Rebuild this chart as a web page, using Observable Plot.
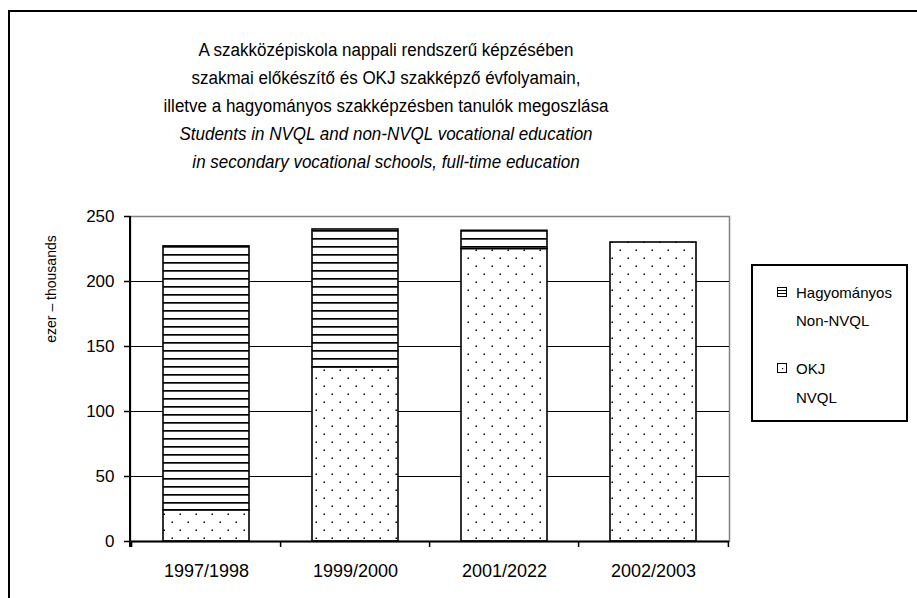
<!DOCTYPE html>
<html>
<head>
<meta charset="utf-8">
<script src="https://cdn.jsdelivr.net/npm/d3@7"></script>
<script src="https://cdn.jsdelivr.net/npm/@observablehq/plot@0.6"></script>
<style>
  body { margin: 0; background: #fff; overflow: hidden; }
  #wrap { position: relative; width: 917px; height: 598px; overflow: hidden; background: #fff;
          font-family: "Liberation Sans", Arial, sans-serif; color: #000; }
  #frame { position: absolute; left: 8px; top: 10px; width: 1000px; height: 1000px; border: 2px solid #000; }
  #title { position: absolute; left: 86px; width: 600px; top: 36px; text-align: center; font-size: 18px; line-height: 28px; white-space: nowrap; transform-origin: 300px 0; }
  #title .en { font-style: italic; }
  #chart { position: absolute; left: 0; top: 190px; }
  #ylabel { position: absolute; left: 51px; top: 289px; transform: translate(-50%, -50%) rotate(-90deg); font-size: 14px; white-space: nowrap; }
  #legend { position: absolute; left: 751px; top: 264px; width: 157px; height: 158px; border: 2px solid #000; box-sizing: border-box; font-size: 15px; }
  .lg { position: absolute; left: 43px; transform: translateY(-50%); white-space: nowrap; }
  .sw { position: absolute; left: 24px; }
</style>
</head>
<body>
<svg width="0" height="0" style="position:absolute">
  <defs>
    <pattern id="dots" patternUnits="userSpaceOnUse" width="16" height="16">
      <rect width="16" height="16" fill="#fff"/>
      <rect x="3.5" y="3.5" width="1.5" height="1.5" fill="#000"/>
      <rect x="11.5" y="11.5" width="1.5" height="1.5" fill="#000"/>
    </pattern>
    <pattern id="stripes" patternUnits="userSpaceOnUse" width="8" height="8">
      <rect width="8" height="8" fill="#fff"/>
      <rect y="0" width="8" height="1.7" fill="#000"/>
    </pattern>
    <pattern id="stripesS" patternUnits="userSpaceOnUse" width="9" height="3">
      <rect width="9" height="3" fill="#fff"/>
      <rect y="0" width="9" height="1" fill="#000"/>
    </pattern>
    <pattern id="dotsS" patternUnits="userSpaceOnUse" width="9" height="9">
      <rect width="9" height="9" fill="#fff"/>
      <rect x="5" y="5" width="1.2" height="1.2" fill="#000"/>
    </pattern>
  </defs>
</svg>
<div id="wrap">
  <div id="frame"></div>
  <div id="title"></div>
  <div id="chart"></div>
  <div id="ylabel"></div>
  <div id="legend"></div>
</div>
<script>
// ---- data ----
const years = ["1997/1998", "1999/2000", "2001/2022", "2002/2003"];
const okj = [24, 134, 225, 230];           // OKJ / NVQL
const hagyomanyos = [203, 106, 14, 0];     // Hagyományos / Non-NVQL
const yTicks = [0, 50, 100, 150, 200, 250];
const gridTicks = [50, 100, 150, 200];
const seriesNames = ["OKJ", "Hagyományos"];
const seriesLegend = [["Hagyományos", "Non-NVQL"], ["OKJ", "NVQL"]];
const titleHu = [
  "A szakközépiskola nappali rendszerű képzésében",
  "szakmai előkészítő és OKJ szakképző évfolyamain,",
  "illetve a hagyományos szakképzésben tanulók megoszlása"
];
const titleEn = [
  "Students in NVQL and non-NVQL vocational education",
  "in secondary vocational schools, full-time education"
];
const yLabel = "ezer – thousands";
const FONT = '"Liberation Sans", Arial, sans-serif';

// ---- build table ----
const data = years.flatMap((y, i) => [
  {year: y, series: "OKJ", value: okj[i]},
  {year: y, series: "Hagyományos", value: hagyomanyos[i]}
]);

// title
const t = document.getElementById("title");
const spans = [];
titleHu.forEach(s => { const d = document.createElement("div"); const sp = document.createElement("span"); sp.textContent = s; d.appendChild(sp); spans.push(sp); t.appendChild(d); });
titleEn.forEach(s => { const d = document.createElement("div"); d.className = "en"; const sp = document.createElement("span"); sp.textContent = s; d.appendChild(sp); spans.push(sp); t.appendChild(d); });
// condense the title to the narrow face of the original (line 3 is ~445px wide there)
const natural = spans[2].getBoundingClientRect().width;
if (natural > 0) t.style.transform = `scaleX(${(445 / natural).toFixed(3)})`;
document.getElementById("ylabel").textContent = yLabel;

const chart = Plot.plot({
  width: 917,
  height: 408,
  marginTop: 26,
  marginBottom: 57,
  marginLeft: 130,
  marginRight: 188,
  style: {fontFamily: FONT, fontSize: "17px", color: "#000", background: "transparent", overflow: "visible"},
  x: {domain: years, paddingInner: 0.426, paddingOuter: 0.213, label: null},
  y: {domain: [0, 250], label: null},
  color: {domain: seriesNames, range: ["url(#dots)", "url(#stripes)"]},
  marks: [
    Plot.frame({stroke: "#808080", strokeWidth: 1.5}),
    Plot.ruleY(gridTicks, {stroke: "#000", strokeWidth: 1.2}),
    Plot.barY(data, {x: "year", y: "value", fill: "series", stroke: "#000", strokeWidth: 1.6}),
    Plot.ruleY([0], {stroke: "#000", strokeWidth: 2}),
    Plot.ruleX(years, {x: d => d, dx: -74.9, y1: 0, y2: -4.6, stroke: "#000", strokeWidth: 1.5}),
    Plot.ruleX([years[years.length - 1]], {x: d => d, dx: 74.9, y1: 0, y2: -4.6, stroke: "#000", strokeWidth: 1.5}),
    Plot.axisX({tickSize: 0, tickPadding: 23, fontSize: 18, label: null}),
    Plot.axisY({ticks: yTicks, tickSize: 6, tickPadding: 10, fontSize: 17, label: null, strokeWidth: 1.5}),
    (index, scales, values, dims) => {
      const l = d3.create("svg:line")
        .attr("x1", dims.marginLeft).attr("x2", dims.marginLeft)
        .attr("y1", dims.marginTop).attr("y2", dims.height - dims.marginBottom + 6)
        .attr("stroke", "#000").attr("stroke-width", 2);
      return l.node();
    }
  ]
});
document.getElementById("chart").appendChild(chart);

// legend
const lg = document.getElementById("legend");
const swatchFill = {"Hagyományos": "url(#stripesS)", "OKJ": "url(#dotsS)"};
const rows = [[26, 54], [102, 131]];
seriesLegend.forEach(([a, b], i) => {
  const sw = document.createElementNS("http://www.w3.org/2000/svg", "svg");
  sw.setAttribute("class", "sw");
  sw.setAttribute("width", 10); sw.setAttribute("height", 10);
  sw.style.top = (rows[i][0] - 5) + "px";
  sw.innerHTML = `<rect x="0.5" y="0.5" width="9" height="9" fill="${swatchFill[a]}" stroke="#000" stroke-width="1"/>`;
  lg.appendChild(sw);
  const d1 = document.createElement("div"); d1.className = "lg"; d1.style.top = rows[i][0] + "px"; d1.textContent = a; lg.appendChild(d1);
  const d2 = document.createElement("div"); d2.className = "lg"; d2.style.top = rows[i][1] + "px"; d2.textContent = b; lg.appendChild(d2);
});
</script>
</body>
</html>
